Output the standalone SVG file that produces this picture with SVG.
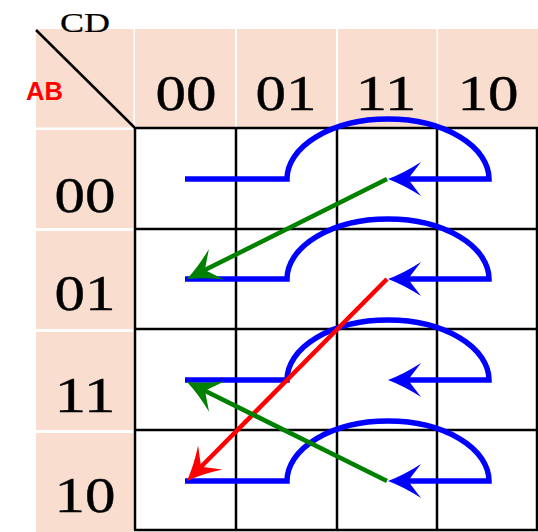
<svg xmlns="http://www.w3.org/2000/svg" width="538" height="532" viewBox="0 0 538 532">
<style>
.hdr{fill:#F9DDCE}
.num{font-family:"Liberation Serif","Times New Roman",serif;font-size:51px;fill:#000;stroke:#000;stroke-width:0.4;text-anchor:middle}
.cd{font-family:"Liberation Serif","Times New Roman",serif;font-size:27px;fill:#000;stroke:#000;stroke-width:0.2}
.ab{font-family:"Liberation Sans",Arial,sans-serif;font-size:25px;font-weight:bold;fill:#FF0000}
.grid{stroke:#000;stroke-width:2.5;fill:none}
.loop{stroke:#0000FF;stroke-width:5.5;fill:none;stroke-linejoin:miter}
.g{stroke:#008000;stroke-width:4.5;fill:none}
.r{stroke:#FF0000;stroke-width:4.5;fill:none}
</style>
<defs>
<path id="head" d="M0,0 Q-16,-6 -33,-17 L-20,0 L-33,17 Q-16,6 0,0Z"/>
<marker id="mb" markerUnits="userSpaceOnUse" orient="auto" refX="-12" refY="0" markerWidth="40" markerHeight="40" overflow="visible"><use href="#head" fill="#0000FF"/></marker>
<marker id="mg" markerUnits="userSpaceOnUse" orient="auto" refX="-12" refY="0" markerWidth="40" markerHeight="40" overflow="visible"><use href="#head" fill="#008000"/></marker>
<marker id="mr" markerUnits="userSpaceOnUse" orient="auto" refX="-12" refY="0" markerWidth="40" markerHeight="40" overflow="visible"><use href="#head" fill="#FF0000"/></marker>
</defs>
<rect width="538" height="532" fill="#fff"/>
<g id="corner">
<rect class="hdr" x="36" y="29" width="97.5" height="98.5"/>
<line x1="36" y1="30" x2="135" y2="128" stroke="#000" stroke-width="2.5"/>
<text class="cd" x="60" y="32" textLength="50" lengthAdjust="spacingAndGlyphs">CD</text>
<text class="ab" x="26" y="100" textLength="37" lengthAdjust="spacingAndGlyphs">AB</text>
</g>
<g id="colHeaders">
<rect class="hdr" x="135" y="29" width="100" height="98.5"/>
<rect class="hdr" x="237" y="29" width="99" height="98.5"/>
<rect class="hdr" x="338" y="29" width="98.5" height="98.5"/>
<rect class="hdr" x="438" y="29" width="100" height="98.5"/>
<text class="num" x="186" y="110" textLength="61" lengthAdjust="spacingAndGlyphs">00</text>
<text class="num" x="286" y="110" textLength="61" lengthAdjust="spacingAndGlyphs">01</text>
<text class="num" x="386" y="110" textLength="61" lengthAdjust="spacingAndGlyphs">11</text>
<text class="num" x="488" y="110" textLength="61" lengthAdjust="spacingAndGlyphs">10</text>
</g>
<g id="rowHeaders">
<rect class="hdr" x="36" y="130" width="97.5" height="98"/>
<rect class="hdr" x="36" y="231" width="97.5" height="98"/>
<rect class="hdr" x="36" y="332" width="97.5" height="98"/>
<rect class="hdr" x="36" y="433" width="97.5" height="99"/>
<text class="num" x="85" y="212" textLength="61" lengthAdjust="spacingAndGlyphs">00</text>
<text class="num" x="85" y="310" textLength="61" lengthAdjust="spacingAndGlyphs">01</text>
<text class="num" x="85" y="412" textLength="61" lengthAdjust="spacingAndGlyphs">11</text>
<text class="num" x="85" y="512" textLength="61" lengthAdjust="spacingAndGlyphs">10</text>
</g>
<g id="grid">
<path class="grid" d="M135,128V530M236,128V530M337,128V530M437,128V530M537,128V530M134,128H538M134,229H538M134,329H538M134,430H538M134,530H538"/>
</g>
<g id="connectors">
<path class="loop" marker-end="url(#mb)" d="M185,179H287A101,60 0 0 1 489,179H400"/>
<path class="loop" marker-end="url(#mb)" d="M185,279H287A101,60 0 0 1 489,279H400"/>
<path class="loop" marker-end="url(#mb)" d="M185,380H287A101,60 0 0 1 489,380H400"/>
<path class="loop" marker-end="url(#mb)" d="M185,481H287A101,60 0 0 1 489,481H400"/>
<line class="r" marker-end="url(#mr)" x1="387" y1="279" x2="195.4" y2="472.5"/>
<line class="g" marker-end="url(#mg)" x1="387" y1="179" x2="197.7" y2="273.6"/>
<line class="g" marker-end="url(#mg)" x1="387" y1="481" x2="197.8" y2="387.3"/>
</g>
</svg>
